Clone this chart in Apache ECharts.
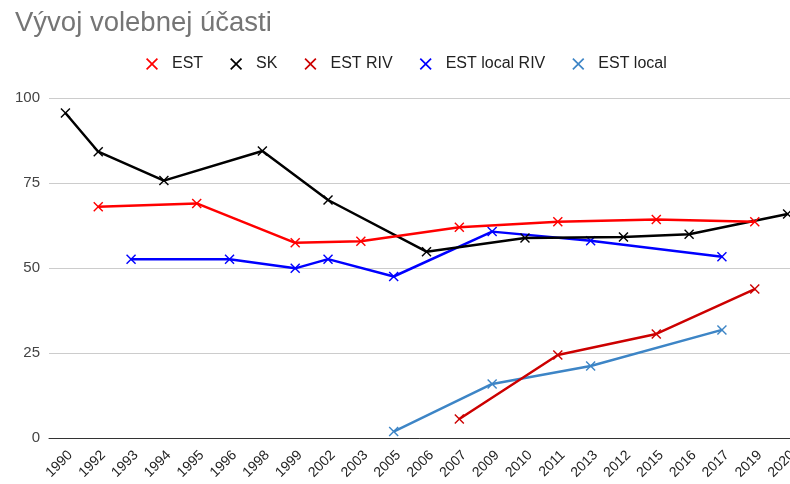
<!DOCTYPE html>
<html><head><meta charset="utf-8">
<script src="https://cdn.jsdelivr.net/npm/echarts@6/dist/echarts.min.js"></script>
<style>html,body{margin:0;padding:0;background:#fff}#c{width:790px;height:484px}</style>
</head><body><div id="c"></div>
<script>
const categories = ['1990','1992','1993','1994','1995','1996','1998','1999','2002','2003','2005','2006','2007','2009','2010','2011','2013','2012','2015','2016','2017','2019','2020'];
const seriesNames = ['EST','SK','EST RIV','EST local RIV','EST local'];
const est =        [null,68.0,null,null,69.0,null,null,57.4,null,57.9,null,null,62.0,null,null,63.6,null,null,64.3,null,null,63.6,null];
const sk =         [95.6,84.2,null,75.7,null,null,84.4,null,70.0,null,null,54.8,null,null,58.8,null,null,59.1,null,59.9,null,null,65.9];
const estRiv =     [null,null,null,null,null,null,null,null,null,null,null,null,5.6,null,null,24.4,null,null,30.6,null,null,43.8,null];
const estLocalRiv =[null,null,52.6,null,null,52.6,null,49.9,52.6,null,47.5,null,null,60.7,null,null,58.0,null,null,null,53.3,null,null];
const estLocal =   [null,null,null,null,null,null,null,null,null,null,1.9,null,null,15.9,null,null,21.2,null,null,null,31.8,null,null];
const yTicks = [0,25,50,75,100];

const colors = ['#ff0000','#000000','#cc0000','#0000ff','#3d85c6'];
const xPath = 'path://M0,1L1,0L5,4L9,0L10,1L6,5L10,9L9,10L5,6L1,10L0,9L4,5Z';
const datasets = [est, sk, estRiv, estLocalRiv, estLocal];
const FF = 'Arial, "Liberation Sans", sans-serif';

const chart = echarts.init(document.getElementById('c'), null, {renderer:'canvas'});
chart.setOption({
  animation:false,
  backgroundColor:'#fff',
  color: colors,
  title:{text:'Vývoj volebnej účasti', left:10, top:4,
    textStyle:{fontFamily:FF, fontSize:27.5, fontWeight:'normal', color:'#757575'}},
  legend:{left:141, top:51, itemGap:27, itemWidth:12, itemHeight:12,
    icon: xPath,
    textStyle:{fontFamily:FF, fontSize:16, color:'#222', padding:[0,0,0,9]},
    data: seriesNames},
  grid:{left:49, width:755, top:98, bottom:46, containLabel:false, outerBoundsMode:'none'},
  xAxis:{type:'category', data:categories, boundaryGap:true,
    axisLine:{lineStyle:{color:'#333', width:1}},
    axisTick:{show:false},
    axisLabel:{interval:0, rotate:45, fontSize:14, color:'#222', margin:20, padding:[0,-7,0,0], fontFamily:FF}},
  yAxis:{type:'value', min:yTicks[0], max:yTicks[yTicks.length-1], interval:25,
    axisLine:{show:false}, axisTick:{show:false},
    splitLine:{lineStyle:{color:'#cccccc'}},
    axisLabel:{fontSize:15, color:'#444', margin:9, fontFamily:FF}},
  series: datasets.map((d,i)=>({
    name: seriesNames[i], type:'line', data:d, connectNulls:true,
    symbol: xPath, symbolSize:10, showSymbol:true,
    lineStyle:{width:2.5, color:colors[i]},
    itemStyle:{color:colors[i]},
    z: 10-i
  }))
});
</script></body></html>
